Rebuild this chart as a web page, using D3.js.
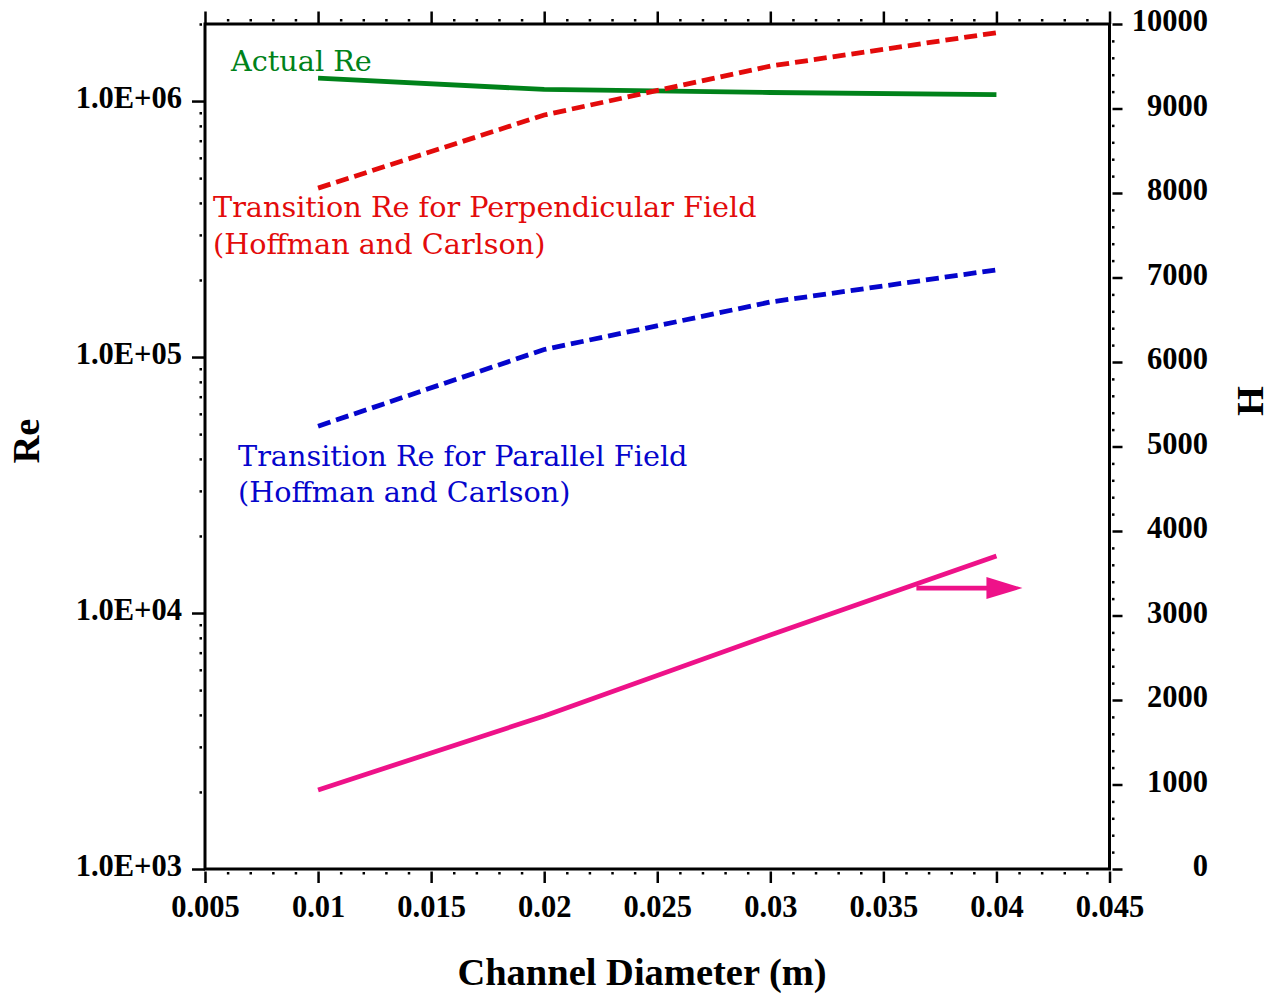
<!DOCTYPE html>
<html>
<head>
<meta charset="utf-8">
<script src="https://cdn.jsdelivr.net/npm/d3@7"></script>
<style>
  body { margin: 0; background: #fff; }
  svg { display: block; }
  .tick text { font-family: "Liberation Serif", serif; font-weight: bold; font-size: 30.5px; fill: #000; }
  .note { font-family: "DejaVu Serif", serif; font-size: 28.7px; }
</style>
</head>
<body>
<div id="chart"></div>
<script>
// channel diameters (m)
const diameters = [0.01, 0.02, 0.03, 0.04];
// Reynolds numbers, left log axis
const actualRe = [1.23e6, 1.11e6, 1.08e6, 1.06e6];
const perpRe = [4.57e5, 8.82e5, 1.37e6, 1.85e6];
const paraRe = [5.37e4, 1.07e5, 1.64e5, 2.19e5];
// Hartmann number, right axis
const hartmann = [935, 1811, 2769, 3704];

const xTicks = [0.005, 0.01, 0.015, 0.02, 0.025, 0.03, 0.035, 0.04, 0.045];
const xTickLabels = ["0.005", "0.01", "0.015", "0.02", "0.025", "0.03", "0.035", "0.04", "0.045"];
const reTicks = [1e3, 1e4, 1e5, 1e6];
const reTickLabels = ["1.0E+03", "1.0E+04", "1.0E+05", "1.0E+06"];
const hTicks = [0, 1000, 2000, 3000, 4000, 5000, 6000, 7000, 8000, 9000, 10000];
const hTickLabels = ["0", "1000", "2000", "3000", "4000", "5000", "6000", "7000", "8000", "9000", "10000"];

const W = 1278, H = 993;
const pLeft = 205, pRight = 1109.5, pTop = 24, pBottom = 869;

const svg = d3.select("#chart").append("svg")
  .attr("width", W).attr("height", H);

const x = d3.scaleLinear().domain([0.005, 0.045]).range([pLeft, pRight]);
const yL = d3.scaleLog().domain([1e3, 2e6]).range([pBottom, pTop]);
const yR = d3.scaleLinear().domain([0, 10000]).range([pBottom, pTop]);

// minor tick positions
const xMinor = d3.range(5, 46).map(d => d / 1000).filter(d => Math.round(d * 1000) % 5 !== 0);
const reMinor = [];
[1e3, 1e4, 1e5, 1e6].forEach(b => { for (let k = 2; k <= 9; k++) if (b * k <= 2e6) reMinor.push(b * k); });
const hMinor = d3.range(200, 10000, 200).filter(d => d % 1000 !== 0);

function styleAxis(g) {
  g.select(".domain").remove();
  g.selectAll(".tick line").attr("stroke", "#000").attr("stroke-width", 2.5);
}

// left axis
const gl = svg.append("g").attr("transform", `translate(${pLeft},0)`)
  .call(d3.axisLeft(yL).tickValues(reTicks).tickSize(13).tickPadding(10)
    .tickFormat((d, i) => reTickLabels[i]));
styleAxis(gl);
gl.selectAll(".tick text").attr("dy", "0.22em");
const glm = svg.append("g").attr("transform", `translate(${pLeft},0)`)
  .call(d3.axisLeft(yL).tickValues(reMinor).tickSize(5.5).tickFormat(""));
styleAxis(glm);
glm.selectAll(".tick line").attr("x1", -3);

// right axis
const gr = svg.append("g").attr("transform", `translate(${pRight},0)`)
  .call(d3.axisRight(yR).tickValues(hTicks).tickSize(13).tickPadding(10)
    .tickFormat((d, i) => hTickLabels[i]));
styleAxis(gr);
gr.selectAll(".tick line").attr("x1", 3);
gr.selectAll(".tick text").attr("text-anchor", "end").attr("x", 1208 - pRight).attr("dy", "0.22em");
const grm = svg.append("g").attr("transform", `translate(${pRight},0)`)
  .call(d3.axisRight(yR).tickValues(hMinor).tickSize(5).tickFormat(""));
styleAxis(grm);
grm.selectAll(".tick line").attr("x1", 2.5);

// bottom axis
const gb = svg.append("g").attr("transform", `translate(0,${pBottom})`)
  .call(d3.axisBottom(x).tickValues(xTicks).tickSize(14).tickPadding(10)
    .tickFormat((d, i) => xTickLabels[i]));
styleAxis(gb);
gb.selectAll(".tick line").attr("y1", 2.5);
gb.selectAll(".tick text").attr("y", 26);
const gbm = svg.append("g").attr("transform", `translate(0,${pBottom})`)
  .call(d3.axisBottom(x).tickValues(xMinor).tickSize(5.5).tickFormat(""));
styleAxis(gbm);
gbm.selectAll(".tick line").attr("y1", 3);

// top axis
const gt = svg.append("g").attr("transform", `translate(0,${pTop})`)
  .call(d3.axisTop(x).tickValues(xTicks).tickSize(12.5).tickFormat(""));
styleAxis(gt);
const gtm = svg.append("g").attr("transform", `translate(0,${pTop})`)
  .call(d3.axisTop(x).tickValues(xMinor).tickSize(5).tickFormat(""));
styleAxis(gtm);
gtm.selectAll(".tick line").attr("y1", -2.5);

// frame
svg.append("rect")
  .attr("x", pLeft).attr("y", pTop)
  .attr("width", pRight - pLeft).attr("height", pBottom - pTop)
  .attr("fill", "none").attr("stroke", "#000").attr("stroke-width", 3);

// series
const lineL = vals => d3.line().x((d, i) => x(diameters[i])).y(d => yL(d))(vals);
const lineR = vals => d3.line().x((d, i) => x(diameters[i])).y(d => yR(d))(vals);

svg.append("path").attr("d", lineL(actualRe))
  .attr("fill", "none").attr("stroke", "#00821a").attr("stroke-width", 4.8);
svg.append("path").attr("d", lineL(perpRe))
  .attr("fill", "none").attr("stroke", "#e30b0b").attr("stroke-width", 4.8)
  .attr("stroke-dasharray", "13,6");
svg.append("path").attr("d", lineL(paraRe))
  .attr("fill", "none").attr("stroke", "#0505cc").attr("stroke-width", 4.8)
  .attr("stroke-dasharray", "13,6");
svg.append("path").attr("d", lineR(hartmann))
  .attr("fill", "none").attr("stroke", "#ee1289").attr("stroke-width", 4.8);

// arrow pointing at the right axis
const arrowFrom = [0.03646, 3325], arrowTo = [0.04115, 3325];
const ax0 = x(arrowFrom[0]), ax1 = x(arrowTo[0]), ay = yR(arrowTo[1]);
svg.append("line").attr("x1", ax0).attr("x2", ax1 - 30).attr("y1", ay).attr("y2", ay)
  .attr("stroke", "#ee1289").attr("stroke-width", 4.8);
svg.append("path")
  .attr("d", `M${ax1},${ay} L${ax1 - 36},${ay - 11} L${ax1 - 36},${ay + 11} Z`)
  .attr("fill", "#ee1289");

// notes
svg.append("text").attr("class", "note").attr("x", 231).attr("y", 71)
  .attr("fill", "#00821a").text("Actual Re");
const red = svg.append("text").attr("class", "note").attr("fill", "#e30b0b");
red.append("tspan").attr("x", 213).attr("y", 217).text("Transition Re for Perpendicular Field");
red.append("tspan").attr("x", 213).attr("y", 254).text("(Hoffman and Carlson)");
const blue = svg.append("text").attr("class", "note").attr("fill", "#0505cc");
blue.append("tspan").attr("x", 238).attr("y", 466).text("Transition Re for Parallel Field");
blue.append("tspan").attr("x", 238).attr("y", 502).text("(Hoffman and Carlson)");

// axis titles
const titleFont = { "font-family": "Liberation Serif, serif", "font-weight": "bold", "font-size": "38.5px" };
const t1 = svg.append("text").attr("x", 642).attr("y", 985)
  .attr("text-anchor", "middle").text("Channel Diameter (m)");
const t2 = svg.append("text").attr("transform", "translate(39,441) rotate(-90)")
  .attr("text-anchor", "middle").text("Re");
const t3 = svg.append("text").attr("transform", "translate(1263,401) rotate(-90)")
  .attr("text-anchor", "middle").text("H");
[t1, t2, t3].forEach(t => Object.entries(titleFont).forEach(([k, v]) => t.attr(k, v)));
</script>
</body>
</html>
